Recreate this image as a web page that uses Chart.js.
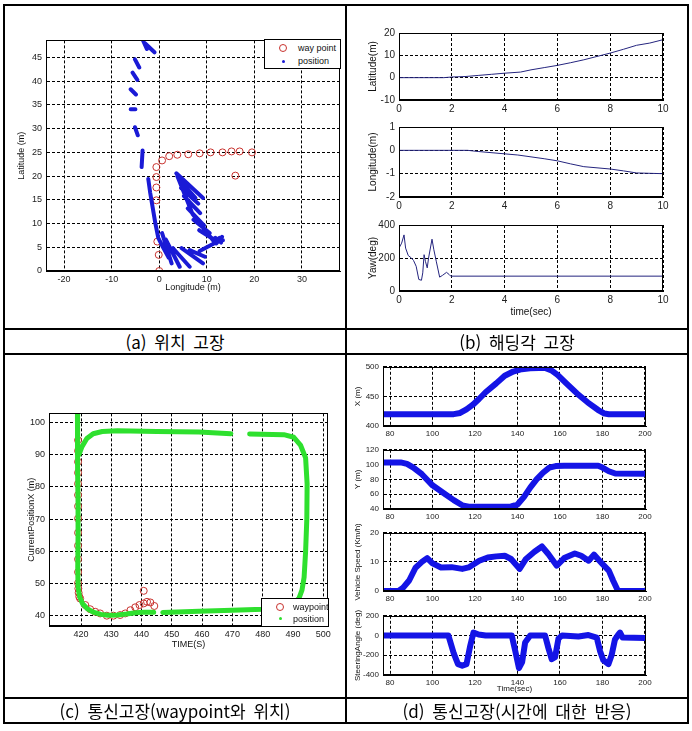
<!DOCTYPE html>
<html lang="ko">
<head>
<meta charset="UTF-8">
<title>고장 실험 결과</title>
<style>
  body { margin: 0; background: #fff; font-family: Arial, "Liberation Sans", sans-serif; }
  #page { position: relative; width: 692px; height: 731px; overflow: hidden; }
  .ln { position: absolute; background: #000; z-index: 5; }
  .cap { position: absolute; height: 25px; line-height: 25px; text-align: center;
         font-family: "Noto Sans CJK KR", sans-serif; font-size: 17px; color: #000; word-spacing: 3px; }
  canvas { position: absolute; }
  .legend { position: absolute; box-sizing: border-box; border: 1px solid #000; background: #fff;
            font-size: 9px; color: #111; z-index: 3; }
  .legend .row { position: absolute; left: 0; white-space: nowrap; }
  .mk-circle { position: absolute; width: 6px; height: 6px; border: 1px solid #c8322e; border-radius: 50%; }
  .mk-dot { position: absolute; width: 3px; height: 3px; border-radius: 50%; }
</style>
</head>
<body>
<div id="page">
  <canvas id="pa"></canvas>
  <canvas id="pb1"></canvas>
  <canvas id="pb2"></canvas>
  <canvas id="pb3"></canvas>
  <canvas id="pc"></canvas>
  <canvas id="pd1"></canvas>
  <canvas id="pd2"></canvas>
  <canvas id="pd3"></canvas>
  <canvas id="pd4"></canvas>

  <!-- legend (a) -->
  <div class="legend" style="left:264px; top:39px; width:77px; height:30px;">
    <div class="mk-circle" style="left:14px; top:4px;"></div>
    <div class="row" style="left:33px; top:3px;">way point</div>
    <div class="mk-dot" style="left:17px; top:20px; background:#1a1ad6;"></div>
    <div class="row" style="left:33px; top:16px;">position</div>
  </div>
  <!-- legend (c) -->
  <div class="legend" style="left:261px; top:598px; width:68px; height:29px;">
    <div class="mk-circle" style="left:14px; top:4px;"></div>
    <div class="row" style="left:31px; top:3px;">waypoint</div>
    <div class="mk-dot" style="left:17px; top:18px; background:#2ee02e;"></div>
    <div class="row" style="left:31px; top:15px;">position</div>
  </div>

  <!-- table lines -->
  <div class="ln" style="left:3px; top:4px; width:686px; height:2px;"></div>
  <div class="ln" style="left:3px; top:722px; width:686px; height:2px;"></div>
  <div class="ln" style="left:3px; top:4px; width:2px; height:720px;"></div>
  <div class="ln" style="left:687px; top:4px; width:2px; height:720px;"></div>
  <div class="ln" style="left:345px; top:4px; width:2px; height:720px;"></div>
  <div class="ln" style="left:3px; top:328px; width:686px; height:2px;"></div>
  <div class="ln" style="left:3px; top:353px; width:686px; height:2px;"></div>
  <div class="ln" style="left:3px; top:697px; width:686px; height:2px;"></div>

  <div class="cap" style="left:5px; width:340px; top:329px;">(a) 위치 고장</div>
  <div class="cap" style="left:347px; width:340px; top:329px;">(b) 해딩각 고장</div>
  <div class="cap" style="left:5px; width:340px; top:698px;">(c) 통신고장(waypoint와 위치)</div>
  <div class="cap" style="left:347px; width:340px; top:698px;">(d) 통신고장(시간에 대한 반응)</div>
</div>

<script src="https://cdn.jsdelivr.net/npm/chart.js"></script>
<script>
  // (a) position fault: waypoints and measured positions (lon, lat in m)
  const wpLon = [0, -0.1, -0.4, -0.6, -0.6, -0.6, -0.6, 0.6, 2.1, 3.8, 6.1, 8.5, 10.8, 13.3, 15.2, 16.9, 19.5, 16.0];
  const wpLat = [0, 3.4, 6.2, 14.9, 17.6, 19.8, 21.9, 23.3, 24.2, 24.5, 24.6, 24.8, 25.0, 25.0, 25.2, 25.2, 25.0, 20.1];
  const posLon = [-3.4, -2.6, null, -3.0, -1.0, null, -5.1, -4.2, null, -5.6, -4.6, null, -6.0, -4.9, null,
    -6.0, -5.0, null, -5.1, -4.5, null, -3.5, -3.7, null,
    -2.3, -1.9, -1.4, -0.8, -0.2, 0.8, 2.0, null,
    0.6, 2.6, null, 1.4, 4.3, null, 2.9, 6.4, null, 4.7, 9.2, null, 6.4, 9.6, null, 8.5, 11.5, 12.7, null,
    11.8, 13.0, null, 12.0, 13.2, null, 11.5, 13.4, null,
    3.6, 9.2, null, 3.8, 7.0, 11.3, null, 4.4, 7.6, null, 4.6, 8.2, null, 5.2, 8.6, null, 6.0, 9.4, null,
    7.2, 10.6, null, 8.4, 11.6];
  const posLat = [48.6, 46.8, null, 48.0, 46.1, null, 44.6, 42.9, null, 41.8, 40.3, null, 38.3, 37.2, null,
    34.1, 34.1, null, 30.3, 28.6, null, 25.4, 21.9, null,
    19.4, 16.5, 13.5, 10.0, 7.0, 5.0, 2.8, null,
    8.0, 1.6, null, 6.6, 0.9, null, 4.8, 0.9, null, 4.8, 1.6, null, 4.4, 3.0, null, 4.2, 5.8, 7.0, null,
    7.0, 6.0, null, 5.8, 7.2, null, 6.5, 6.5, null,
    20.6, 15.4, null, 20.0, 12.0, 6.5, null, 19.0, 15.4, null, 17.5, 14.2, null, 15.8, 12.2, null, 13.2, 9.6, null,
    10.8, 8.0, null, 8.6, 6.6];
  const aLonTicks = [-20, -10, 0, 10, 20, 30];
  const aLatTicks = [0, 5, 10, 15, 20, 25, 30, 35, 40, 45];

  // (b) heading fault
  const bLatTime = [0, 1.7, 2, 2.5, 3, 3.5, 4, 4.6, 5, 5.5, 6, 6.5, 7, 7.5, 8, 8.5, 9, 9.5, 10];
  const bLat = [0, 0, 0.3, 0.5, 1, 1.5, 2, 2.5, 3.5, 4.5, 5.5, 6.7, 8, 9.5, 11, 12.7, 14.5, 15.5, 17];
  const bLonTime = [0, 2.6, 3, 4, 4.5, 5, 5.5, 6, 6.5, 7, 7.5, 8, 8.5, 9, 10];
  const bLon = [0, 0, -0.05, -0.15, -0.2, -0.28, -0.36, -0.45, -0.58, -0.7, -0.75, -0.8, -0.88, -0.97, -1.0];
  const bYawTime = [0, 0.1, 0.19, 0.25, 0.35, 0.47, 0.55, 0.65, 0.75, 0.85, 0.9, 0.95, 1.0, 1.07, 1.12, 1.25, 1.32, 1.41, 1.54, 1.65, 1.8, 1.9, 1.96, 10];
  const bYaw = [260, 290, 340, 260, 215, 200, 185, 150, 70, 65, 110, 220, 180, 140, 200, 314, 250, 181, 84, 95, 113, 100, 90, 90];
  const bTimeTicks = [0, 2, 4, 6, 8, 10];

  // (c) communication fault: waypoints and positions
  const cWpX = [419, 419, 419, 419, 419, 419, 419, 419, 419, 419, 419, 419, 419, 419.1, 419.2, 419.4,
    419.7, 421.4, 423.0, 424.7, 426.3, 428.5, 430.7, 432.9, 434.6, 436.3, 437.9, 439.3, 440.7, 441.8, 442.9, 444.2, 440.7];
  const cWpY = [94.5, 91.2, 87.8, 84.4, 81, 77.5, 74, 70.2, 65.8, 61.8, 57.6, 53.6, 50.2, 48.5, 47.2, 46,
    45.4, 43.4, 42.1, 41.3, 40.8, 40.1, 40.1, 40.3, 40.8, 41.8, 42.7, 43.4, 43.9, 44.4, 44.2, 43.1, 47.8];
  const cPosX = [418.8, 418.8, 418.9, 419, 419, 418.9, 419, 419.5, 420.5, 422, 424, 426.5, 429, 432, 435, 438, 441, 444, null,
    419.3, 420.3, 421.9, 424, 427, 432, 445, 459, 469.5, null,
    475.7, 487, 490.3, 492.5, 494.2, 494.7, 494.6, 494.2, 493.7, 493, 492, 490, 486, 480, 470, 459, 447];
  const cPosY = [103, 95, 85, 75, 65, 55, 49, 46, 43.8, 42.3, 41.2, 40.5, 40.2, 40.3, 40.6, 41, 41.2, 41.2, null,
    90, 92.5, 95, 96.5, 97.2, 97.4, 97.2, 97, 96.5, null,
    96.4, 96.2, 95.4, 93, 89, 81, 70, 60, 52, 48, 45.5, 43.5, 42.5, 42.1, 41.8, 41.5, 41.1];
  const cXTicks = [420, 430, 440, 450, 460, 470, 480, 490, 500];
  const cYTicks = [40, 50, 60, 70, 80, 90, 100];

  // (d) communication fault vs time
  const dXTime = [77, 110, 113, 116, 119, 122, 125, 130, 134, 138, 142, 146, 150, 153, 156, 159, 163, 168, 173, 178, 181, 183, 200];
  const dX = [420, 420, 422, 428, 436, 446, 457, 472, 485, 492, 496, 497.5, 498, 498, 494, 486, 472, 455, 440, 427, 421, 420, 420];
  const dYTime = [77, 85, 88, 91, 95, 100, 105, 110, 114, 117, 125, 137, 140, 143, 146, 149, 152, 155, 158, 162, 178, 180, 183, 186, 200];
  const dY = [103, 103, 101, 96, 87, 72, 62, 52, 45, 43, 43, 43.5, 46, 56, 69, 80, 89, 96, 98, 98.5, 98.5, 96, 91, 88, 87.5];
  const dSpeedTime = [77, 84, 86, 89, 92, 95, 97.5, 100, 104, 109, 114, 117, 122, 126, 130, 134, 137, 141, 144, 148, 151.5, 154.5, 158.5, 162, 167, 170, 173.5, 176, 180, 183, 185, 187, 189, 200];
  const dSpeed = [0, 0, 1, 3.6, 8, 10, 11.3, 9.5, 8.1, 8.2, 7.6, 8.1, 10.4, 11.5, 11.9, 12.1, 11, 7.6, 11, 13.5, 15.3, 12.7, 8.7, 11.3, 12.9, 12.1, 10.4, 12.5, 9.3, 7, 3.6, 0.5, 0, 0];
  const dSteerTime = [77, 107.5, 110, 112, 114, 116, 117.8, 119.3, 121.7, 125, 137.3, 139, 140.7, 142.2, 143.6, 146, 153, 154.6, 156.1, 157.7, 159.3, 161, 168.7, 173.4, 177.3, 178.9, 180.4, 182.8, 184.3, 185.9, 187.5, 188.3, 189.5, 200];
  const dSteer = [0, 0, -180, -290, -305, -290, -100, 30, 10, 0, 0, -160, -330, -270, -70, 0, 0, -130, -240, -220, -30, 0, -10, 5, -20, -160, -250, -290, -200, -40, 10, 30, -20, -25];
  const dTimeTicks = [80, 100, 120, 140, 160, 180, 200];

  const pts = (xs, ys) => xs.map((v, i) => ({ x: v, y: ys[i] }));

  // black box around each plot area
  const frame = {
    id: 'frame',
    afterDraw(chart) {
      const a = chart.chartArea, ctx = chart.ctx;
      ctx.save();
      ctx.strokeStyle = '#000';
      ctx.lineWidth = 1;
      ctx.strokeRect(Math.round(a.left) + 0.5, Math.round(a.top) + 0.5, Math.round(a.width) - 1, Math.round(a.height) - 1);
      ctx.restore();
    }
  };

  const PL = 48, PT = 8, PR = 12, PB = 34;

  function plot(id, box, xa, ya, datasets) {
    const cv = document.getElementById(id);
    const w = box.r - box.l + PL + PR, h = box.b - box.t + PT + PB;
    cv.style.left = (box.l - PL) + 'px';
    cv.style.top = (box.t - PT) + 'px';
    cv.width = w; cv.height = h;
    cv.style.width = w + 'px'; cv.style.height = h + 'px';
    const fs = xa.size || 9;
    const lh = fs * 1.2;
    const axis = (a, horizontal) => ({
      type: 'linear',
      min: a.min,
      max: a.max,
      afterFit: s => { if (horizontal) s.height = PB; else s.width = PL; },
      afterBuildTicks: s => { s.ticks = a.ticks.map(v => ({ value: v })); },
      grid: { color: '#000', lineWidth: 1, drawTicks: false },
      border: { display: true, color: '#000', dash: [3, 2] },
      ticks: { font: { family: 'Arial', size: fs }, color: '#222', padding: horizontal ? 3 : 4,
               autoSkip: false, maxRotation: 0 },
      title: a.title ? {
        display: true, text: a.title, color: '#111',
        font: { family: 'Arial', size: fs },
        padding: horizontal
          ? { top: 0, bottom: box.b + PB - a.titlePos - lh / 2 }
          : { top: a.titlePos - (box.l - PL) - lh / 2, bottom: 0 }
      } : { display: false }
    });
    new Chart(cv, {
      type: 'scatter',
      data: { datasets },
      options: {
        responsive: false,
        animation: false,
        events: [],
        layout: { padding: { top: PT, right: PR, left: 0, bottom: 0 } },
        plugins: { legend: { display: false }, tooltip: { enabled: false } },
        scales: { x: axis(xa, true), y: axis(ya, false) }
      },
      plugins: [frame]
    });
  }

  const lineSet = (data, color, width) => ({
    data, showLine: true, borderColor: color, borderWidth: width, pointRadius: 0,
    borderCapStyle: 'round', borderJoinStyle: 'round', spanGaps: false
  });
  const circleSet = (data) => ({
    data, showLine: false, pointStyle: 'circle', pointRadius: 3.5,
    borderColor: '#c8322e', backgroundColor: 'rgba(0,0,0,0)', borderWidth: 1
  });

  // (a)
  plot('pa', { l: 46, t: 39, r: 340, b: 271 },
    { min: -23.8, max: 38, ticks: aLonTicks, title: 'Longitude (m)', titlePos: 288 },
    { min: 0, max: 48.6, ticks: aLatTicks, title: 'Latitude (m)', titlePos: 22 },
    [lineSet(pts(posLon, posLat), '#1a1ad6', 4), circleSet(pts(wpLon, wpLat))]);

  // (b)
  const bNavy = '#24247e';
  plot('pb1', { l: 399, t: 31, r: 663, b: 100 },
    { min: 0, max: 10, ticks: bTimeTicks, size: 10 },
    { min: -10, max: 20, ticks: [-10, 0, 10, 20], title: 'Latitude(m)', titlePos: 373 },
    [lineSet(pts(bLatTime, bLat), bNavy, 1)]);
  plot('pb2', { l: 399, t: 125, r: 663, b: 197 },
    { min: 0, max: 10, ticks: bTimeTicks, size: 10 },
    { min: -2, max: 1, ticks: [-2, -1, 0, 1], title: 'Longitude(m)', titlePos: 373 },
    [lineSet(pts(bLonTime, bLon), bNavy, 1)]);
  plot('pb3', { l: 399, t: 223, r: 663, b: 291 },
    { min: 0, max: 10, ticks: bTimeTicks, size: 10, title: 'time(sec)', titlePos: 312 },
    { min: 0, max: 400, ticks: [0, 200, 400], title: 'Yaw(deg)', titlePos: 373 },
    [lineSet(pts(bYawTime, bYaw), bNavy, 1)]);

  // (c)
  plot('pc', { l: 49, t: 412, r: 328, b: 626 },
    { min: 409.4, max: 501.6, ticks: cXTicks, title: 'TIME(S)', titlePos: 645 },
    { min: 36.9, max: 102.8, ticks: cYTicks, title: 'CurrentPositionX (m)', titlePos: 32 },
    [lineSet(pts(cPosX, cPosY), '#2ee02e', 5), circleSet(pts(cWpX, cWpY))]);

  // (d)
  const dBlue = '#1414e6';
  plot('pd1', { l: 383, t: 366, r: 646, b: 426 },
    { min: 76.7, max: 200.5, ticks: dTimeTicks, size: 8 },
    { min: 400, max: 500, ticks: [400, 450, 500], title: 'X (m)', titlePos: 358 },
    [lineSet(pts(dXTime, dX), dBlue, 6)]);
  plot('pd2', { l: 383, t: 449, r: 646, b: 509 },
    { min: 76.7, max: 200.5, ticks: dTimeTicks, size: 8 },
    { min: 40, max: 120, ticks: [40, 60, 80, 100, 120], title: 'Y (m)', titlePos: 358 },
    [lineSet(pts(dYTime, dY), dBlue, 6)]);
  plot('pd3', { l: 383, t: 532, r: 646, b: 591 },
    { min: 76.7, max: 200.5, ticks: dTimeTicks, size: 8 },
    { min: 0, max: 20, ticks: [0, 10, 20], title: 'Vehicle Speed (Km/h)', titlePos: 358 },
    [lineSet(pts(dSpeedTime, dSpeed), dBlue, 6)]);
  plot('pd4', { l: 383, t: 615, r: 646, b: 675 },
    { min: 76.7, max: 200.5, ticks: dTimeTicks, size: 8, title: 'Time(sec)', titlePos: 689 },
    { min: -400, max: 200, ticks: [-400, -200, 0, 200], title: 'SteeringAngle (deg)', titlePos: 358 },
    [lineSet(pts(dSteerTime, dSteer), dBlue, 6)]);
</script>
</body>
</html>
